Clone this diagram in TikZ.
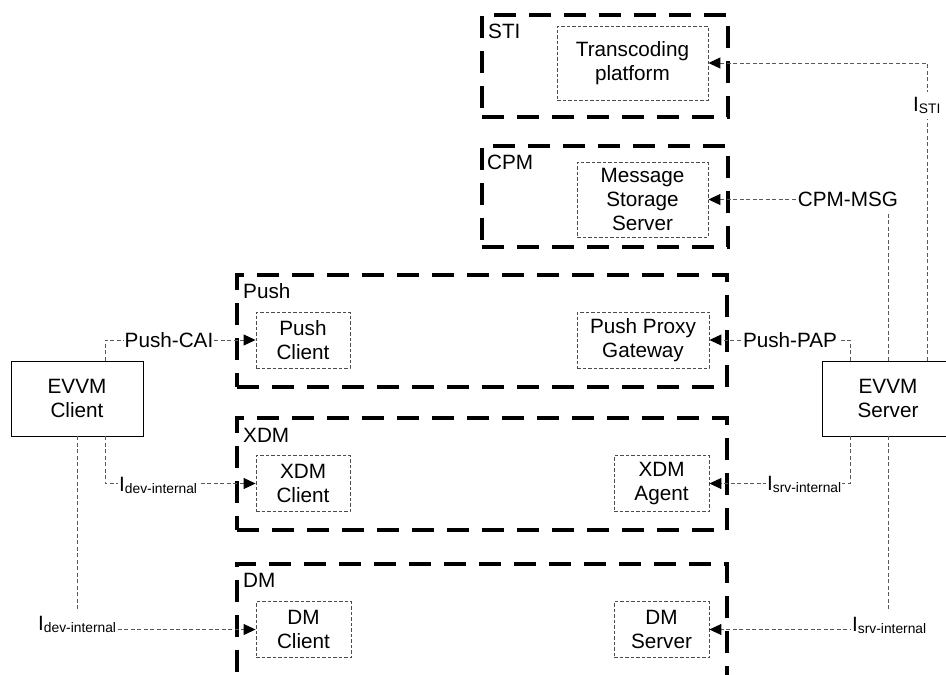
\documentclass[tikz,border=0pt]{standalone}
\usepackage{fontspec}
\setmainfont{Liberation Sans}
\usetikzlibrary{arrows.meta}
\newcommand\mfs{\fontsize{20.7}{24}\selectfont}
\newcommand\lsub[1]{\raisebox{-2.5pt}{\fontsize{13.8}{14}\selectfont #1}}
\tikzset{
  grp/.style={draw, line width=3.3pt, dash pattern=on 22pt off 13pt, inner sep=0pt},
  inbox/.style={draw=black!70, line width=0.9pt, dash pattern=on 3.5pt off 2pt, align=center, font=\mfs, inner sep=0pt},
  evvm/.style={draw, line width=0.9pt, align=center, minimum width=132pt, minimum height=75pt, font=\mfs, inner sep=0pt},
  conn/.style={draw=black!65, line width=1pt, dash pattern=on 4pt off 2.5pt, -{Triangle[length=12pt,width=11pt,color=black]}},
  lbl/.style={fill=white, inner xsep=1pt, inner ysep=5pt, font=\mfs},
  glbl/.style={inner sep=0pt, anchor=base west, font=\mfs}
}
\begin{document}
\begin{tikzpicture}[x=1pt,y=-1pt]
\useasboundingbox (0,0) rectangle (946,675);
\clip (0,0) rectangle (946,675);
% groups
\node[grp, minimum width=246pt, minimum height=102pt] (sti) at (605,66) {};
\node[grp, minimum width=246pt, minimum height=101pt] (cpm) at (605,196.5) {};
\node[grp, minimum width=490pt, minimum height=112pt] (push) at (482,331) {};
\node[grp, minimum width=490pt, minimum height=112pt] (xdm) at (482,474) {};
\node[grp, minimum width=490pt, minimum height=124pt] (dm) at (482,626) {};
\node[glbl] (stil) at (488,38) {STI};
\node[glbl] (cpml) at (487,169) {CPM};
\node[glbl] (pushl) at (243,298) {Push};
\node[glbl] (xdml) at (243,442) {XDM};
\node[glbl] (dml) at (243,587) {DM};
% inner boxes
\node[inbox, minimum width=151pt, minimum height=74pt] (tp) at (632.5,63) {Transcoding\\platform};
\node[inbox, minimum width=131pt, minimum height=75pt] (mss) at (642.5,199.5) {Message\\Storage\\Server};
\node[inbox, minimum width=94pt, minimum height=56pt] (pc) at (303,340) {Push\\Client};
\node[inbox, minimum width=132pt, minimum height=56pt] (ppg) at (643,340) {Push Proxy\\Gateway};
\node[inbox, minimum width=94pt, minimum height=56pt] (xc) at (303,483.5) {XDM\\Client};
\node[inbox, minimum width=95pt, minimum height=56pt] (xa) at (661.5,483.5) {XDM\\Agent};
\node[inbox, minimum width=95pt, minimum height=56pt] (dc) at (303.5,629.5) {DM\\Client};
\node[inbox, minimum width=95pt, minimum height=56pt] (ds) at (661.5,629.5) {DM\\Server};
% EVVM boxes
\node[evvm] (evc) at (77,398.5) {EVVM\\Client};
\node[evvm] (evs) at (888,398.5) {EVVM\\Server};
% connectors
\draw[conn] ([xshift=28pt]evc.north) |- (pc.west);
\draw[conn] ([xshift=-38pt]evs.north) |- (ppg.east);
\draw[conn] (evs.north) |- (mss.east);
\draw[conn] ([xshift=39pt]evs.north) |- (tp.east);
\draw[conn] ([xshift=28pt]evc.south) |- (xc.west);
\draw[conn] ([xshift=-38pt]evs.south) |- (xa.east);
\draw[conn] (evc.south) |- (dc.west);
\draw[conn] (evs.south) |- (ds.east);
% labels
\node[lbl, anchor=base] (lcai) at (169,347) {Push-CAI};
\node[lbl, anchor=base] (lpap) at (790,347) {Push-PAP};
\node[lbl, anchor=base] (lmsg) at (848,206) {CPM-MSG};
\node[lbl, anchor=base west] (lsti) at (912,111) {I\lsub{STI}};
\node[lbl, anchor=base west] (lxdev) at (118,491) {I\lsub{dev-internal}};
\node[lbl, anchor=base west] (lxsrv) at (766,490) {I\lsub{srv-internal}};
\node[lbl, anchor=base west] (ldmdev) at (37,630) {I\lsub{dev-internal}};
\node[lbl, anchor=base west] (ldmsrv) at (851,631) {I\lsub{srv-internal}};
\end{tikzpicture}
\end{document}
